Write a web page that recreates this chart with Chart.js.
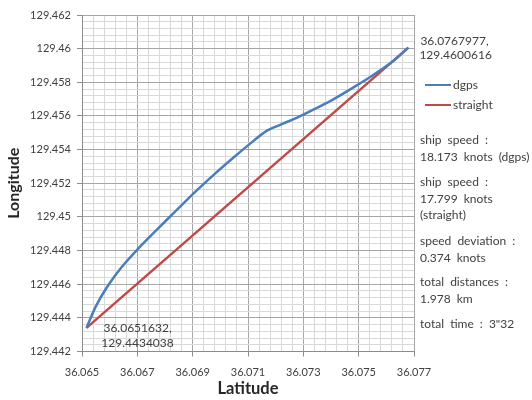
<!DOCTYPE html>
<html>
<head>
<meta charset="utf-8">
<title>dgps vs straight track</title>
<script src="https://cdn.jsdelivr.net/npm/chart.js@4.4.1/dist/chart.umd.min.js"></script>
<style>
  html, body { margin: 0; padding: 0; background: #fff; }
  #wrap { position: relative; width: 532px; height: 400px; font-family: Lato, 'Open Sans', sans-serif; color: #404040; }
  #chart { position: absolute; left: 0; top: 0; }
  .legend-row { position: absolute; left: 425px; height: 16px; font-size: 12px; line-height: 16px; white-space: nowrap; }
  .legend-row .swatch { display: inline-block; width: 26px; height: 0; border-top: 2.5px solid; vertical-align: middle; margin-right: 2px; position: relative; top: -1px; }
  .note { position: absolute; left: 420px; font-size: 12px; line-height: 16.6px; word-spacing: 3px; white-space: nowrap; }
</style>
</head>
<body>
<div id="wrap">
  <canvas id="chart" width="532" height="400"></canvas>
  <div class="legend-row" style="top:77px"><span class="swatch" style="border-color:#4a7ebb"></span>dgps</div>
  <div class="legend-row" style="top:97px"><span class="swatch" style="border-color:#be4b48"></span>straight</div>
  <div class="note" style="top:132px">ship speed :<br>18.173 knots (dgps)</div>
  <div class="note" style="top:174px">ship speed :<br>17.799 knots<br>(straight)</div>
  <div class="note" style="top:233px">speed deviation :<br>0.374 knots</div>
  <div class="note" style="top:274px">total distances :<br>1.978 km</div>
  <div class="note" style="top:316px">total time : 3"32</div>
</div>
<script>
// --- Data ---
const dgpsLat = [36.0651632, 36.0655, 36.0659, 36.0664, 36.0670, 36.0677, 36.0684,
  36.0691, 36.0698, 36.0705, 36.0712, 36.0717, 36.0722, 36.0728, 36.0734,
  36.0741, 36.0748, 36.0755, 36.0762, 36.0767977];
const dgpsLon = [129.4434038, 129.44468, 129.44582, 129.44695, 129.44806, 129.44923, 129.45037,
  129.45150, 129.45256, 129.45356, 129.45452, 129.45514, 129.45550, 129.45592, 129.45640,
  129.45700, 129.45768, 129.45840, 129.45920, 129.4600616];
const straightLat = [36.0651632, 36.0767977];
const straightLon = [129.4434038, 129.4600616];

const xTickLabels = ['36.065', '36.067', '36.069', '36.071', '36.073', '36.075', '36.077'];
const yTickLabels = ['129.442', '129.444', '129.446', '129.448', '129.45', '129.452',
  '129.454', '129.456', '129.458', '129.46', '129.462'];

const MINOR_PER_MAJOR = 5;
const FONT = 'Lato';

// --- Endpoint labels (Excel-style data labels) ---
const pointLabels = {
  id: 'pointLabels',
  afterDatasetsDraw(chart) {
    const { ctx, scales: { x, y } } = chart;
    const last = straightLat.length - 1;
    ctx.save();
    ctx.font = '12px ' + FONT;
    ctx.fillStyle = '#404040';
    ctx.textBaseline = 'middle';

    // end point: to the right
    const ex = x.getPixelForValue(straightLat[last]);
    const ey = y.getPixelForValue(straightLon[last]);
    ctx.textAlign = 'left';
    ctx.fillText(straightLat[last] + ',', ex + 12, ey - 6);
    ctx.fillText(straightLon[last].toFixed(7), ex + 11, ey + 8);

    // start point: below-right
    const sx = x.getPixelForValue(straightLat[0]);
    const sy = y.getPixelForValue(straightLon[0]);
    ctx.textAlign = 'center';
    ctx.fillText(straightLat[0] + ',', sx + 51, sy);
    ctx.fillText(straightLon[0].toFixed(7), sx + 51, sy + 15.5);
    ctx.restore();
  }
};

const isMajor = c => c.index % MINOR_PER_MAJOR === 0;

function axisOptions(min, max, labels, title, titleSize, tickPad, fitFn) {
  return {
    type: 'linear',
    min,
    max,
    afterFit: fitFn,
    ticks: {
      stepSize: 0.0004,
      maxTicksLimit: 100,
      autoSkip: false,
      minRotation: 0,
      maxRotation: 0,
      padding: tickPad,
      color: '#404040',
      font: { family: FONT, size: 11 },
      callback: (v, i) => (i % MINOR_PER_MAJOR === 0 ? labels[i / MINOR_PER_MAJOR] : ''),
    },
    grid: {
      color: c => (isMajor(c) ? '#a6a6a6' : '#d9d9d9'),
      tickColor: c => (isMajor(c) ? '#8c8c8c' : 'rgba(0,0,0,0)'),
      tickLength: 5,
      lineWidth: 1,
    },
    border: { color: '#8c8c8c' },
    title: {
      display: true,
      text: title,
      color: '#262626',
      padding: { top: 4, bottom: 1 },
      font: { family: FONT, size: titleSize, weight: 'bold' },
    },
  };
}

new Chart(document.getElementById('chart'), {
  type: 'scatter',
  data: {
    datasets: [
      {
        label: 'dgps',
        data: dgpsLat.map((v, i) => ({ x: v, y: dgpsLon[i] })),
        showLine: true,
        borderColor: '#4a7ebb',
        borderWidth: 2.5,
        pointRadius: 0,
        tension: 0.3,
      },
      {
        label: 'straight',
        data: straightLat.map((v, i) => ({ x: v, y: straightLon[i] })),
        showLine: true,
        borderColor: '#be4b48',
        borderWidth: 2.5,
        pointRadius: 0,
      },
    ],
  },
  options: {
    responsive: false,
    animation: false,
    layout: { padding: { top: 15, right: 118, left: 0, bottom: 0 } },
    plugins: {
      legend: { display: false },
      tooltip: { enabled: false },
    },
    scales: {
      x: axisOptions(36.065, 36.077, xTickLabels, 'Latitude', 16.5, 9, s => { s.height = 48.5; }),
      y: axisOptions(129.442, 129.462, yTickLabels, 'Longitude', 16, 6, s => { s.width = 82; }),
    },
  },
  plugins: [pointLabels],
});
</script>
</body>
</html>
